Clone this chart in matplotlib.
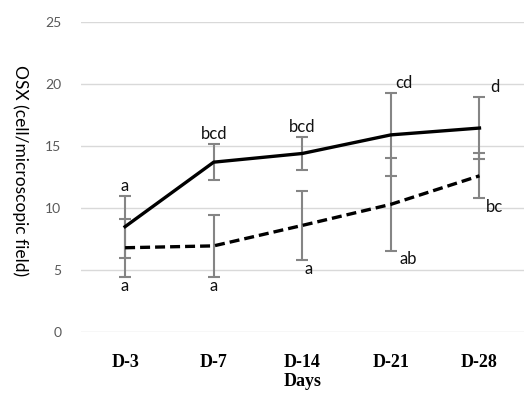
import matplotlib.pyplot as plt
import numpy as np

days = ["D-3", "D-7", "D-14", "D-21", "D-28"]
solid_mean = [8.5, 13.7, 14.4, 15.9, 16.45]
solid_err = [2.5, 1.45, 1.35, 3.35, 2.5]
dashed_mean = [6.8, 6.95, 8.6, 10.3, 12.6]
dashed_err = [2.35, 2.5, 2.8, 3.75, 1.8]
solid_letters = ["a", "bcd", "bcd", "cd", "d"]
dashed_letters = ["a", "a", "a", "ab", "bc"]

x = np.arange(len(days))

fig = plt.figure(figsize=(5.28, 3.93), dpi=100)
ax = fig.add_axes([0.153, 0.155, 0.839, 0.789])

ax.errorbar(x, solid_mean, yerr=solid_err, fmt="none", ecolor="#858585",
            elinewidth=1.5, capsize=4, capthick=1.5, zorder=2)
ax.errorbar(x, dashed_mean, yerr=dashed_err, fmt="none", ecolor="#858585",
            elinewidth=1.5, capsize=4, capthick=1.5, zorder=2)
ax.plot(x, solid_mean, color="black", lw=2.4, zorder=3)
ax.plot(x, dashed_mean, color="black", lw=2.4, ls=(0, (3, 1.5)), zorder=3)

# significance letters
offs_top = [0, 0, 0, 0.15, 0.17]
for i in range(len(days)):
    ax.text(x[i] + offs_top[i], solid_mean[i] + solid_err[i] + 0.15, solid_letters[i],
            ha="center", va="bottom", fontsize=12, family="Lato", color="#111111")
offs_bot = [0, 0, 0.07, 0.2, 0.17]
for i in range(len(days)):
    ax.text(x[i] + offs_bot[i], dashed_mean[i] - dashed_err[i] - 0.05, dashed_letters[i],
            ha="center", va="top", fontsize=12, family="Lato", color="#111111")

ax.set_xlim(-0.5, len(days) - 0.5)
ax.set_ylim(0, 25)
ax.set_yticks([0, 5, 10, 15, 20, 25])
ax.yaxis.grid(True, color="#d9d9d9", lw=1)
ax.set_axisbelow(True)
for s in ax.spines.values():
    s.set_visible(False)
ax.tick_params(length=0)
ax.tick_params(axis="y", labelsize=10, labelcolor="#595959", pad=14)
ax.set_xticks(x)
ax.set_xticklabels(days, fontsize=13, fontweight="bold", family="Liberation Serif")
ax.tick_params(axis="x", pad=16)
for t in ax.get_yticklabels():
    t.set_family("Lato")

ax.set_xlabel("Days", fontsize=13, fontweight="bold", family="Liberation Serif", labelpad=1)
ax.set_ylabel("OSX (cell/microscopic field)", fontsize=12.5, family="Lato",
              rotation=270, va="bottom")
ax.yaxis.set_label_coords(-0.155, 0.52)

plt.savefig("out.png", dpi=100)
